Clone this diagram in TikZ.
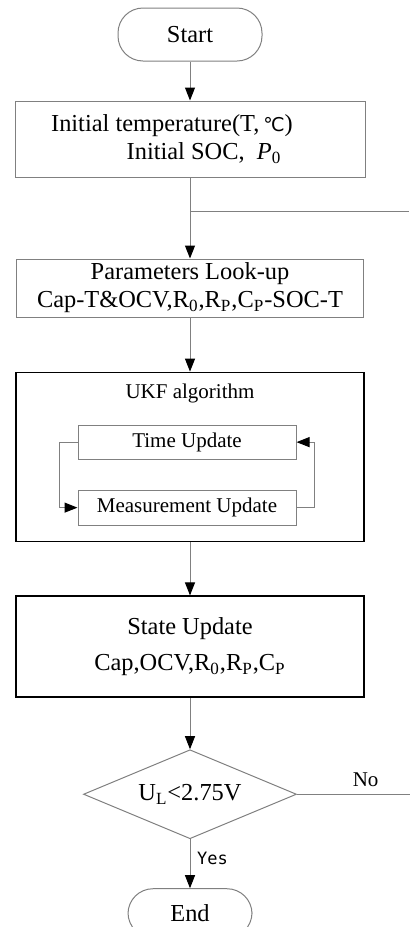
\documentclass[tikz,border=0pt]{standalone}
\usepackage{fontspec}
\setmainfont{Liberation Serif}
\newfontfamily\symfont{DejaVu Sans}
\newfontfamily\yesfont{DejaVu Sans Mono}
\usetikzlibrary{arrows.meta,positioning,shapes.geometric}

\begin{document}
\begin{tikzpicture}[>={Triangle[length=6.5pt,width=5pt,color=black]},
  font=\fontsize{12.2}{14}\selectfont,
  line/.style={draw=gray,line width=0.5pt},
  term/.style={line,rounded corners=12.5pt,minimum width=72pt,minimum height=26.5pt,inner sep=0pt},
  box/.style={line,align=center,minimum width=175pt,inner sep=2pt},
  bigbox/.style={draw,line width=0.9pt,align=center,minimum width=174pt,inner sep=2pt},
  sub/.style={line,font=\fontsize{10.5}{12}\selectfont,minimum width=109pt,minimum height=17pt,inner sep=0pt},
  dec/.style={line,diamond,aspect=2.39,minimum width=106.5pt,minimum height=44.5pt,inner sep=0pt},
  lab/.style={font=\yesfont\fontsize{8.5}{10}\selectfont}]
\useasboundingbox (0,0) rectangle (204.5pt,-463.5pt);
\node[term] (start) at (95pt,-17.25pt) {Start};
\node[box,minimum height=38pt,below=19.5pt of start] (init) {Initial temperature(T,\,{\symfont\fontsize{9.5}{12}\selectfont ℃})\hspace*{18pt}\\ \hspace*{14pt}Initial SOC,\enspace\textit{P}\textsubscript{0}};
\node[box,minimum height=26pt,minimum width=173.5pt,below=40.5pt of init] (param) {Parameters Look-up\\ Cap-T\&OCV,R\textsubscript{0},R\textsubscript{P},C\textsubscript{P}-SOC-T};
\node[bigbox,minimum height=84.5pt,below=27pt of param] (ukf) {};
\node[font=\fontsize{10.5}{12}\selectfont,below=11pt of ukf.north,anchor=center] (ukftitle) {UKF algorithm};
\node[sub,below=26.5pt of ukf.north,xshift=-1.5pt] (tup) {Time Update};
\node[sub,minimum height=17.5pt,below=15pt of tup] (mup) {Measurement Update};
\node[bigbox,minimum height=50.5pt,below=26.5pt of ukf] (state) {State Update\\[4pt] Cap,OCV,R\textsubscript{0},R\textsubscript{P},C\textsubscript{P}};
\node[dec,below=25.5pt of state] (check) {U\textsubscript{L}<2.75V};
\node[term,minimum width=62pt,minimum height=24.5pt,below=24.5pt of check] (end) {End};
\coordinate[below=17pt of init] (merge);
\coordinate[right=109.5pt of merge] (loopin);
\coordinate[right=56.25pt of check.east] (loopout);
\draw[line,->] (start) -- (init);
\draw[line,->] (init) -- (param);
\draw[line] (merge) -- (loopin);
\draw[line,->] (param) -- (ukf);
\draw[line,->] (tup.west) -- ++(-9pt,0) |- (mup.west);
\draw[line,->] (mup.east) -- ++(9pt,0) |- (tup.east);
\draw[line,->] (ukf) -- (state);
\draw[line,->] (state) -- (check);
\draw[line] (check.east) -- node[above,pos=0.61,font=\fontsize{10.5}{12}\selectfont]{No} (loopout);
\draw[line,->] (check) -- node[lab,right,pos=0.4]{Yes} (end);
\end{tikzpicture}
\end{document}
